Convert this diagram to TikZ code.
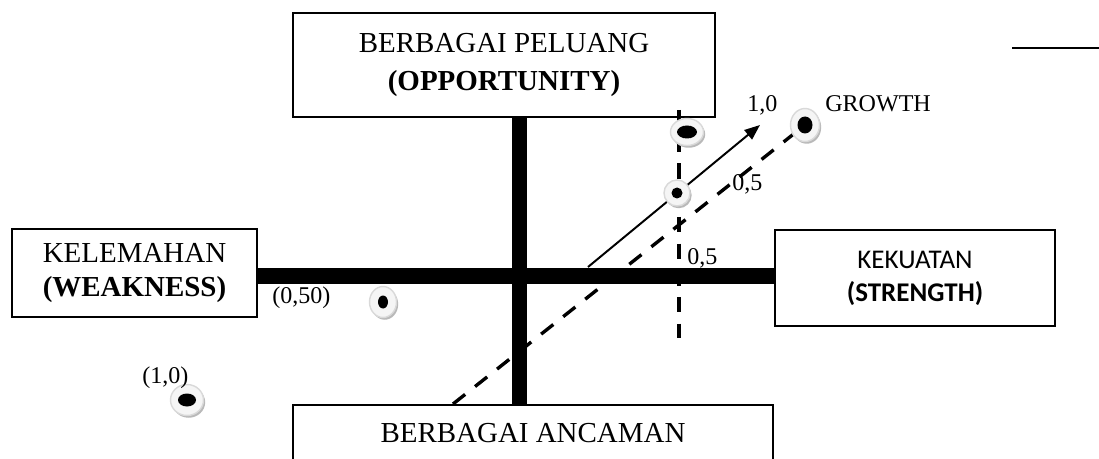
\documentclass[tikz,border=0pt]{standalone}
\usepackage{fontspec}
\setmainfont{Liberation Serif}
\newfontfamily\calibri{Carlito}
\usetikzlibrary{positioning, arrows.meta, shapes.geometric, shadows, calc}
\tikzset{
  % Quadrant boxes
  quadbox/.style={
    draw, rectangle, line width=1.1pt, align=center, inner sep=0pt,
    font=\fontsize{20.6}{27.7}\selectfont
  },
  % Thick axes
  axisbar/.style={line width=11pt},
  % Dashed guides
  dashline/.style={line width=2.2pt, dash pattern=on 11pt off 8pt},
  growline/.style={line width=2.4pt, dash pattern=on 11pt off 9pt},
  % Vector arrow
  vector/.style={line width=1.4pt, -{Triangle[length=11pt, width=8.5pt]}},
  % Small value labels
  coordlabel/.style={inner sep=0pt, anchor=base west,
    font=\fontsize{17.1}{20}\selectfont},
  % Points
  spotring/.style={
    ellipse, fill=gray!8, draw=gray!30, line width=1pt, inner sep=0pt,
    drop shadow={shadow xshift=1.2pt, shadow yshift=-1.6pt, fill=gray!55, opacity=1}
  },
  spotcore/.style={ellipse, fill=black, inner sep=0pt},
}
\newcommand{\spot}[6]{%
  \node[spotring, minimum width=#3*0.025cm, minimum height=#4*0.025cm] (#1) at (#2) {};
  \node[spotcore, minimum width=#5*0.025cm, minimum height=#6*0.025cm] (#1c) at (#2) {};
}

\begin{document}
\begin{tikzpicture}[x=0.025cm, y=-0.025cm]
  \useasboundingbox (0,0) rectangle (1099,459);
  \clip (0,0) rectangle (1099,459);

  %% ── Quadrant boxes ──
  \node[quadbox, minimum width=10.55cm, minimum height=2.6cm] (peluang) at (504,65)
    {BERBAGAI PELUANG\\\textbf{(OPPORTUNITY)}};
  \node[quadbox, minimum width=6.125cm, minimum height=2.2cm,
        font=\fontsize{20.6}{23.5}\selectfont] (lemah) at (134.5,273)
    {KELEMAHAN\\\textbf{(WEAKNESS)}};
  \node[quadbox, minimum width=7cm, minimum height=2.4cm,
        font=\calibri\fontsize{19.2}{23.5}\selectfont] (kuat) at (915,278)
    {KEKUATAN\\\textbf{(STRENGTH)}};
  \node[quadbox, anchor=north, minimum width=12cm, inner ysep=13.5pt] (ancaman) at (533,404)
    {BERBAGAI ANCAMAN};

  %% ── Axes ──
  \coordinate (pusat) at (519.5,276);
  \draw[axisbar] (peluang.south -| pusat) -- (ancaman.north -| pusat);
  \draw[axisbar] (lemah.east |- pusat) -- (kuat.west |- pusat);

  %% ── Guides and vector ──
  \coordinate (batasA) at (679,110);
  \coordinate (batasB) at (679,338);
  \draw[dashline] (batasA) -- (batasB);

  \coordinate (growA) at (453,404);
  \coordinate (growB) at (805,125);
  \draw[growline] (growA) -- (growB);

  \coordinate (vecA) at (588,267);
  \coordinate (vecB) at (760,125);
  \draw[vector] (vecA) -- (vecB);

  %% ── Points ──
  \spot{dotA}{687,132}{33}{27}{20}{13}
  \spot{dotB}{677,193}{26}{26}{11}{11}
  \spot{dotG}{growB}{29}{33}{15}{17}
  \spot{dotW}{383,302}{27}{31}{10}{13}
  \spot{dotT}{187,400}{33}{31}{18}{13}

  %% ── Labels ──
  \node[coordlabel] (lblSatu)   at (747,112) {1,0};
  \node[coordlabel] (lblGrowth) at (825,112) {GROWTH};
  \node[coordlabel] (lblSetA)   at (732,191) {0,5};
  \node[coordlabel] (lblSetB)   at (687,265) {0,5};
  \node[coordlabel] (lblW)      at (272,303) {(0,50)};
  \node[coordlabel] (lblT)      at (142,383) {(1,0)};

  %% ── Corner rule ──
  \coordinate (garisA) at (1012,48);
  \coordinate (garisB) at (1099,48);
  \draw[line width=1.8pt] (garisA) -- (garisB);

\end{tikzpicture}
\end{document}
